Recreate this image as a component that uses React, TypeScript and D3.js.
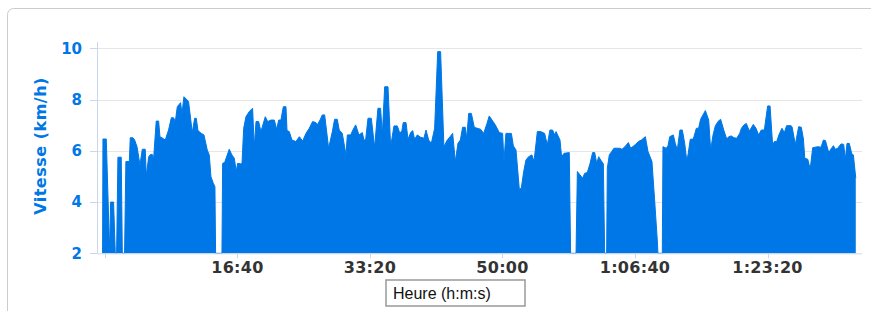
import React from 'react';
import * as d3 from 'd3';

// elapsed time (s) and speed (km/h)
const elapsed = [
  -18, -15, 10, 35, 43, 65, 78, 88, 98, 123, 131, 148, 158, 184, 191, 211, 224, 242, 264, 282,
  304, 312, 330, 345, 357, 367, 387, 405, 415, 430, 455, 480, 501, 518, 531, 546, 571, 581, 596, 621,
  631, 659, 677, 689, 702, 727, 747, 772, 787, 800, 818, 830, 835, 883, 888, 903, 938, 958, 976, 991,
  1001, 1024, 1034, 1047, 1064, 1089, 1114, 1127, 1140, 1160, 1177, 1210, 1228, 1253, 1278, 1296, 1311, 1328, 1346, 1366,
  1374, 1391, 1411, 1441, 1467, 1492, 1517, 1542, 1567, 1592, 1602, 1623, 1640, 1658, 1688, 1716, 1733, 1753, 1768, 1791,
  1819, 1829, 1854, 1874, 1892, 1917, 1942, 1955, 1967, 1985, 2010, 2035, 2060, 2080, 2093, 2111, 2136, 2156, 2181, 2206,
  2226, 2241, 2251, 2272, 2287, 2307, 2322, 2337, 2357, 2382, 2407, 2423, 2443, 2463, 2488, 2511, 2533, 2558, 2581, 2604,
  2624, 2644, 2664, 2682, 2699, 2719, 2730, 2745, 2765, 2787, 2808, 2835, 2858, 2883, 2900, 2921, 2946, 2976, 3001, 3011,
  3026, 3067, 3082, 3102, 3127, 3142, 3160, 3177, 3197, 3222, 3238, 3263, 3288, 3318, 3338, 3358, 3378, 3394, 3404, 3434,
  3446, 3464, 3504, 3514, 3555, 3565, 3585, 3605, 3620, 3640, 3660, 3680, 3696, 3711, 3726, 3741, 3761, 3771, 3786, 3791,
  3806, 3824, 3841, 3882, 3902, 3924, 3950, 3967, 4000, 4025, 4048, 4078, 4098, 4128, 4148, 4168, 4173, 4206, 4211, 4236,
  4249, 4262, 4289, 4304, 4319, 4339, 4357, 4375, 4390, 4400, 4417, 4440, 4463, 4480, 4495, 4513, 4531, 4556, 4571, 4589,
  4606, 4626, 4646, 4671, 4692, 4707, 4727, 4747, 4767, 4790, 4803, 4823, 4840, 4863, 4893, 4913, 4933, 4953, 4976, 5001,
  5019, 5039, 5051, 5069, 5089, 5109, 5127, 5144, 5177, 5185, 5210, 5235, 5255, 5271, 5281, 5304, 5322, 5341, 5379, 5404,
  5422, 5437, 5462, 5479, 5497, 5512, 5529, 5555, 5575, 5587, 5600, 5617, 5636, 5648, 5666,
];
const speed = [
  2, 6.46, 6.46, 2.1, 4.0, 4.0, 2, 2, 5.75, 5.75, 2, 2, 5.58, 5.58, 6.51, 6.51, 6.42, 6.16, 5.45, 6.06,
  6.06, 5.02, 5.77, 5.86, 5.86, 5.68, 7.16, 7.16, 6.55, 6.51, 6.42, 6.81, 7.29, 7.29, 7.14, 7.72, 7.88, 7.44, 8.11, 7.98,
  7.92, 6.71, 7.27, 7.27, 6.79, 6.68, 6.62, 6.03, 5.84, 4.99, 4.73, 4.6, 2, 2, 5.51, 5.54, 6.06, 5.84, 5.71, 5.19,
  5.51, 5.49, 5.49, 6.88, 7.33, 7.53, 7.66, 6.16, 7.14, 7.14, 6.75, 7.33, 7.14, 7.2, 7.2, 6.84, 7.2, 7.2, 7.72, 7.72,
  6.79, 6.75, 6.42, 6.36, 6.55, 6.38, 6.68, 6.88, 7.14, 7.1, 7.01, 7.2, 7.4, 7.4, 6.1, 6.75, 7.23, 7.23, 6.81, 6.68,
  5.84, 6.62, 6.62, 6.84, 7.01, 6.62, 6.71, 6.42, 6.42, 7.27, 7.27, 6.14, 7.66, 7.66, 6.62, 8.5, 8.5, 6.16, 6.97, 6.97,
  6.68, 6.79, 7.1, 7.1, 6.45, 6.71, 6.79, 6.45, 6.62, 6.53, 6.49, 6.81, 6.42, 6.29, 6.88, 9.87, 9.87, 6.16, 6.4, 6.55,
  6.68, 5.58, 6.29, 6.42, 6.92, 6.92, 6.49, 7.46, 7.46, 6.92, 6.88, 6.84, 6.68, 7.07, 7.36, 7.2, 7.01, 6.71, 6.68, 5.58,
  6.68, 6.68, 6.19, 6.03, 4.5, 4.54, 5.19, 5.64, 5.77, 5.84, 5.58, 6.75, 6.75, 6.68, 6.23, 6.81, 6.81, 6.62, 6.75, 6.42,
  5.77, 5.9, 5.93, 2, 2, 5.19, 5.06, 4.93, 5.12, 5.15, 5.49, 5.93, 5.93, 5.51, 5.77, 5.64, 5.49, 2, 2, 5.32,
  5.84, 5.97, 6.1, 6.1, 6.06, 6.16, 6.32, 6.1, 6.23, 6.36, 6.42, 6.55, 5.97, 5.58, 4.08, 2.52, 2, 2, 6.16, 6.1,
  6.19, 6.55, 6.62, 6.29, 6.03, 6.81, 6.81, 6.29, 5.64, 5.84, 6.45, 6.46, 6.88, 6.88, 7.23, 7.4, 7.57, 7.2, 6.03, 6.62,
  6.97, 7.14, 7.23, 6.79, 6.46, 6.55, 6.58, 6.51, 6.49, 6.68, 6.88, 7.01, 7.07, 6.77, 7.03, 6.88, 6.62, 6.81, 6.81, 7.75,
  7.75, 6.2, 6.36, 6.36, 6.66, 6.88, 6.71, 6.98, 6.98, 6.94, 6.25, 6.94, 6.92, 6.46, 5.71, 5.67, 5.28, 6.12, 6.16, 6.14,
  6.42, 6.4, 5.93, 6.07, 6.2, 6.06, 6.1, 6.27, 6.25, 5.67, 6.29, 6.29, 5.88, 5.84, 4.93,
];
const yTicks = [2, 4, 6, 8, 10];
const xTicks = [0, 1000, 2000, 3000, 4000, 5000];

const BLUE = '#0077e6';
const AXIS = '#ccd6eb';
const GRID = '#e6e6e6';

const fmt = (s: number) => {
  if (s === 0) return '';
  const h = Math.floor(s / 3600);
  const m = Math.floor((s % 3600) / 60);
  const sec = s % 60;
  const pad = (n: number) => String(n).padStart(2, '0');
  return h > 0 ? `${h}:${pad(m)}:${pad(sec)}` : `${m}:${pad(sec)}`;
};

const App = () => {
  const left = 97, right = 862, top = 42, bottom = 253.3;
  const x = d3.scaleLinear().domain([-60, 5713]).range([left, right]);
  const y = d3.scaleLinear().domain([2, 10]).range([bottom, 48.3]);

  const data = elapsed.map((t, i) => ({ t, v: speed[i] }));
  const area = d3.area<{ t: number; v: number }>()
    .x(d => x(d.t))
    .y0(y(2))
    .y1(d => y(d.v));
  const line = d3.line<{ t: number; v: number }>()
    .x(d => x(d.t))
    .y(d => y(d.v));

  return (
    <svg width={871} height={311} style={{ position: 'absolute', left: 0, top: 0, display: 'block' }}
      fontFamily="'DejaVu Sans', sans-serif">
      <rect x={0} y={0} width={871} height={311} fill="#fff" />
      <rect x={7.5} y={8.5} width={950} height={400} rx={6} fill="#fff" stroke="#cccccc" strokeWidth={1} />

      {/* grid */}
      {yTicks.filter(v => v !== 2).map(v => (
        <line key={v} x1={left} x2={right} y1={Math.round(y(v)) + 0.5} y2={Math.round(y(v)) + 0.5} stroke={GRID} strokeWidth={1} />
      ))}

      {/* series */}
      <path d={area(data) || ''} fill={BLUE} />
      <path d={line(data) || ''} fill="none" stroke={BLUE} strokeWidth={1} />

      {/* axes */}
      <line x1={left + 0.5} x2={left + 0.5} y1={top} y2={bottom} stroke={AXIS} strokeWidth={1} />
      <line x1={left} x2={right} y1={bottom + 0.5} y2={bottom + 0.5} stroke={AXIS} strokeWidth={1} />
      {yTicks.map(v => (
        <g key={v}>
          <line x1={left - 7} x2={left} y1={Math.round(y(v)) + 0.5} y2={Math.round(y(v)) + 0.5} stroke={AXIS} />
          <text x={82} y={y(v)} dy="0.36em" textAnchor="end" fontSize={15} fontWeight="bold" fill={BLUE}>{v}</text>
        </g>
      ))}
      {xTicks.map(t => (
        <g key={t}>
          <line x1={Math.round(x(t)) + 0.5} x2={Math.round(x(t)) + 0.5} y1={bottom} y2={bottom + 5} stroke={AXIS} />
          <text x={x(t)} y={273} textAnchor="middle" fontSize={16} fontWeight="bold" fill="#333" letterSpacing={0.3}>{fmt(t)}</text>
        </g>
      ))}

      <text transform={`translate(46,146) rotate(-90)`} textAnchor="middle" fontSize={16} fontWeight="bold"
        fill={BLUE} letterSpacing={0.5}>Vitesse (km/h)</text>

      <rect x={386} y={280} width={139} height={26} fill="#fff" stroke="#999" strokeWidth={1.5} />
      <text x={393} y={299} fontSize={16} fontFamily="'Liberation Sans', Arial, sans-serif" fill="#111">Heure (h:m:s)</text>
    </svg>
  );
};

export default App;
